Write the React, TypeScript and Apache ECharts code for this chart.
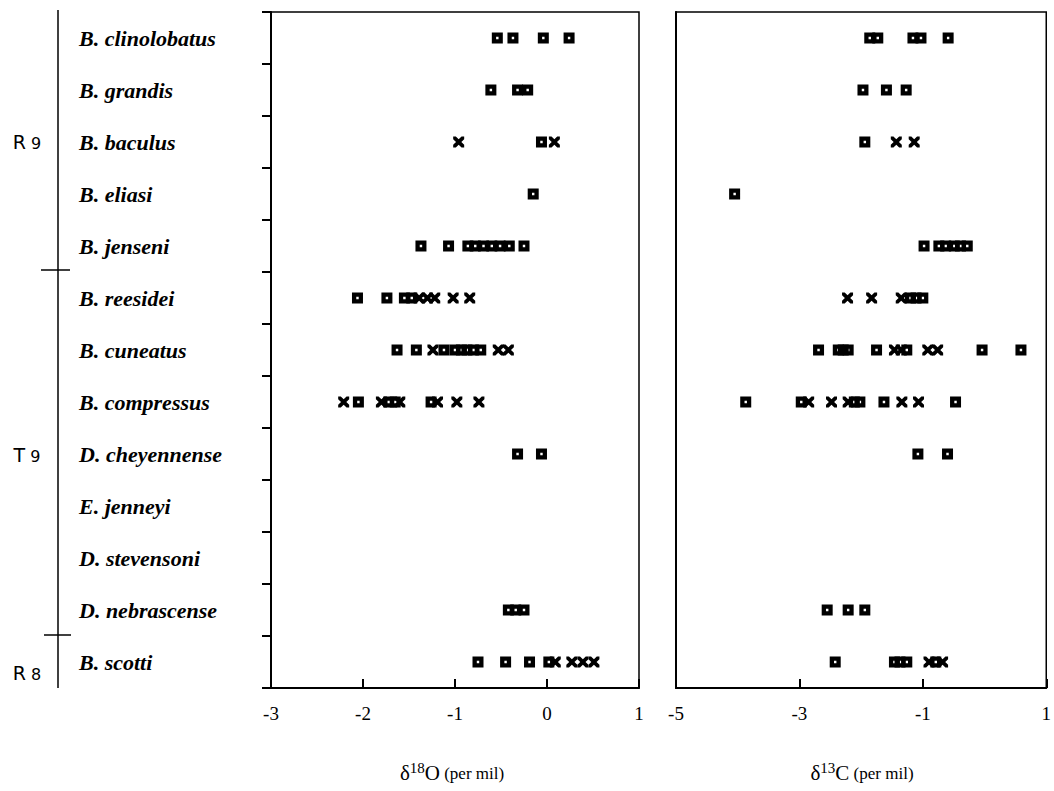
import React, { useEffect, useRef } from "react";
import * as echarts from "echarts";

// Species, top to bottom
const species = [
  "B. clinolobatus",
  "B. grandis",
  "B. baculus",
  "B. eliasi",
  "B. jenseni",
  "B. reesidei",
  "B. cuneatus",
  "B. compressus",
  "D. cheyennense",
  "E. jenneyi",
  "D. stevensoni",
  "D. nebrascense",
  "B. scotti",
];

// δ18O (per mil): square-symbol samples per species
const o18Squares: number[][] = [
  [-0.54, -0.37, -0.04, 0.24],
  [-0.61, -0.32, -0.21],
  [-0.06],
  [-0.15],
  [-1.37, -1.07, -0.86, -0.78, -0.69, -0.6, -0.51, -0.41, -0.25],
  [-2.06, -1.74, -1.55, -1.47],
  [-1.63, -1.42, -1.12, -1.0, -0.93, -0.87, -0.8, -0.72],
  [-2.05, -1.72, -1.65, -1.26],
  [-0.32, -0.06],
  [],
  [],
  [-0.42, -0.34, -0.25],
  [-0.75, -0.45, -0.19, 0.02],
];

// δ18O (per mil): cross-symbol samples per species
const o18Crosses: number[][] = [
  [],
  [],
  [-0.96, 0.08],
  [],
  [],
  [-1.39, -1.3, -1.22, -1.02, -0.84],
  [-1.24, -0.53, -0.42],
  [-2.21, -1.8, -1.6, -1.19, -0.98, -0.74],
  [],
  [],
  [],
  [],
  [0.09, 0.27, 0.39, 0.51],
];

// δ13C (per mil): square-symbol samples per species
const c13Squares: number[][] = [
  [-1.86, -1.73, -1.16, -1.03, -0.59],
  [-1.97, -1.59, -1.27],
  [-1.94],
  [-4.05],
  [-0.98, -0.74, -0.63, -0.49, -0.39, -0.28],
  [-1.2, -1.11, -1.0],
  [-2.69, -2.37, -2.29, -2.21, -1.75, -1.26, -0.04, 0.59],
  [-3.87, -2.97, -2.11, -2.02, -1.63, -0.47],
  [-1.08, -0.6],
  [],
  [],
  [-2.55, -2.21, -1.94],
  [-2.42, -1.46, -1.37, -1.26, -0.79],
];

// δ13C (per mil): cross-symbol samples per species
const c13Crosses: number[][] = [
  [],
  [],
  [-1.43, -1.14],
  [],
  [],
  [-2.22, -1.83, -1.35],
  [-1.46, -1.35, -0.92, -0.76],
  [-2.85, -2.48, -2.21, -1.34, -1.07],
  [],
  [],
  [],
  [],
  [-0.9, -0.68],
];

// Axis ranges and tick steps
const o18Axis = { min: -3, max: 1, interval: 1 };
const c13Axis = { min: -5, max: 1, interval: 2 };

// Stage labels beside the bracket (letter, digit, vertical position)
const stages = [
  { letter: "R", num: "9", y: 142 },
  { letter: "T", num: "9", y: 455 },
  { letter: "R", num: "8", y: 673 },
];

const SQUARE = "path://M0 0H10V10H0Z M3.9 3.9V6.1H6.1V3.9Z";
const CROSS =
  "path://M0 0L2.4 0L5 2.6L7.6 0L10 0L10 2.4L7.4 5L10 7.6L10 10L7.6 10L5 7.4L2.4 10L0 10L0 7.6L2.6 5L0 2.4Z";

const toPoints = (rows: number[][]) =>
  rows.flatMap((vals, i) => vals.map((v) => [v, i]));

const serif = "'Liberation Serif', 'Times New Roman', serif";
const sans = "'DejaVu Sans', sans-serif";

export default function App() {
  const ref = useRef<HTMLDivElement>(null);

  useEffect(() => {
    if (!ref.current) return;
    const chart = echarts.init(ref.current, undefined, { renderer: "svg" });

    const top = 12;
    const plotH = 676;
    const band = plotH / species.length;

    const gridCommon = {
      top,
      height: plotH,
      show: true,
      borderColor: "#000",
      borderWidth: 1.5,
      backgroundColor: "transparent",
    };

    const xAxisCommon = {
      type: "value" as const,
      axisLine: { show: true, onZero: false, lineStyle: { color: "#000", width: 2 } },
      axisTick: { show: true, inside: true, length: 9, lineStyle: { color: "#000", width: 2 } },
      splitLine: { show: false },
      axisLabel: {
        color: "#000",
        fontFamily: serif,
        fontSize: 19,
        margin: 16,
      },
    };

    const series: any[] = [];
    const addSeries = (rows: number[][], symbol: string, idx: number) => {
      series.push({
        type: "scatter",
        xAxisIndex: idx,
        yAxisIndex: idx,
        symbol,
        symbolSize: 11,
        itemStyle: { color: "#000", opacity: 1 },
        data: toPoints(rows),
        silent: true,
      });
    };
    addSeries(o18Squares, SQUARE, 0);
    addSeries(o18Crosses, CROSS, 0);
    addSeries(c13Squares, SQUARE, 1);
    addSeries(c13Crosses, CROSS, 1);

    const titleRich = {
      d: { fontFamily: serif, fontSize: 21, color: "#000" },
      s: { fontFamily: serif, fontSize: 15, color: "#000", padding: [0, 0, 10, 0] },
      o: { fontFamily: serif, fontSize: 21, color: "#000" },
      p: { fontFamily: serif, fontSize: 17, color: "#000" },
    };

    const graphics: any[] = [
      // stage bracket
      {
        type: "line",
        shape: { x1: 58, y1: 10, x2: 58, y2: 688 },
        style: { stroke: "#000", lineWidth: 1.5 },
      },
      {
        type: "line",
        shape: { x1: 41, y1: top + band * 5 - 2, x2: 70, y2: top + band * 5 - 2 },
        style: { stroke: "#000", lineWidth: 1.5 },
      },
      {
        type: "line",
        shape: { x1: 44, y1: top + band * 12 - 1, x2: 71, y2: top + band * 12 - 1 },
        style: { stroke: "#000", lineWidth: 1.5 },
      },
      ...stages.map((s) => ({
        type: "text",
        x: 27,
        y: s.y,
        style: {
          text: `{a|${s.letter}}{b|${s.num}}`,
          align: "center",
          verticalAlign: "middle",
          rich: {
            a: { fontFamily: sans, fontSize: 19, color: "#000", padding: [0, 5, 0, 0] },
            b: { fontFamily: sans, fontSize: 16, color: "#000", padding: [2, 0, 0, 0] },
          },
        },
      })),
      {
        type: "text",
        x: 452,
        y: 773,
        style: {
          text: "{d|δ}{s|18}{o|O}{p| (per mil)}",
          align: "center",
          verticalAlign: "middle",
          rich: titleRich,
        },
      },
      {
        type: "text",
        x: 862,
        y: 773,
        style: {
          text: "{d|δ}{s|13}{o|C}{p| (per mil)}",
          align: "center",
          verticalAlign: "middle",
          rich: titleRich,
        },
      },
    ];

    chart.setOption({
      animation: false,
      backgroundColor: "#fff",
      grid: [
        { ...gridCommon, left: 271, width: 368 },
        { ...gridCommon, left: 676, width: 374 },
      ],
      xAxis: [
        { ...xAxisCommon, gridIndex: 0, ...o18Axis },
        { ...xAxisCommon, gridIndex: 1, ...c13Axis },
      ],
      yAxis: [
        {
          type: "category",
          gridIndex: 0,
          data: species,
          inverse: true,
          boundaryGap: true,
          axisLine: { show: true, onZero: false, lineStyle: { color: "#000", width: 2 } },
          axisTick: { show: true, inside: false, length: 9, lineStyle: { color: "#000", width: 2 } },
          splitLine: { show: false },
          axisLabel: {
            align: "left",
            margin: 192,
            color: "#000",
            fontFamily: serif,
            fontWeight: "bold",
            fontStyle: "italic",
            fontSize: 22,
          },
        },
        {
          type: "category",
          gridIndex: 1,
          data: species,
          inverse: true,
          boundaryGap: true,
          axisLine: { show: true, onZero: false, lineStyle: { color: "#000", width: 2 } },
          axisTick: { show: false },
          splitLine: { show: false },
          axisLabel: { show: false },
        },
      ],
      series,
      graphic: graphics,
    });

    return () => chart.dispose();
  }, []);

  return (
    <div
      ref={ref}
      style={{ position: "absolute", left: 0, top: 0, width: 1054, height: 791 }}
    />
  );
}
